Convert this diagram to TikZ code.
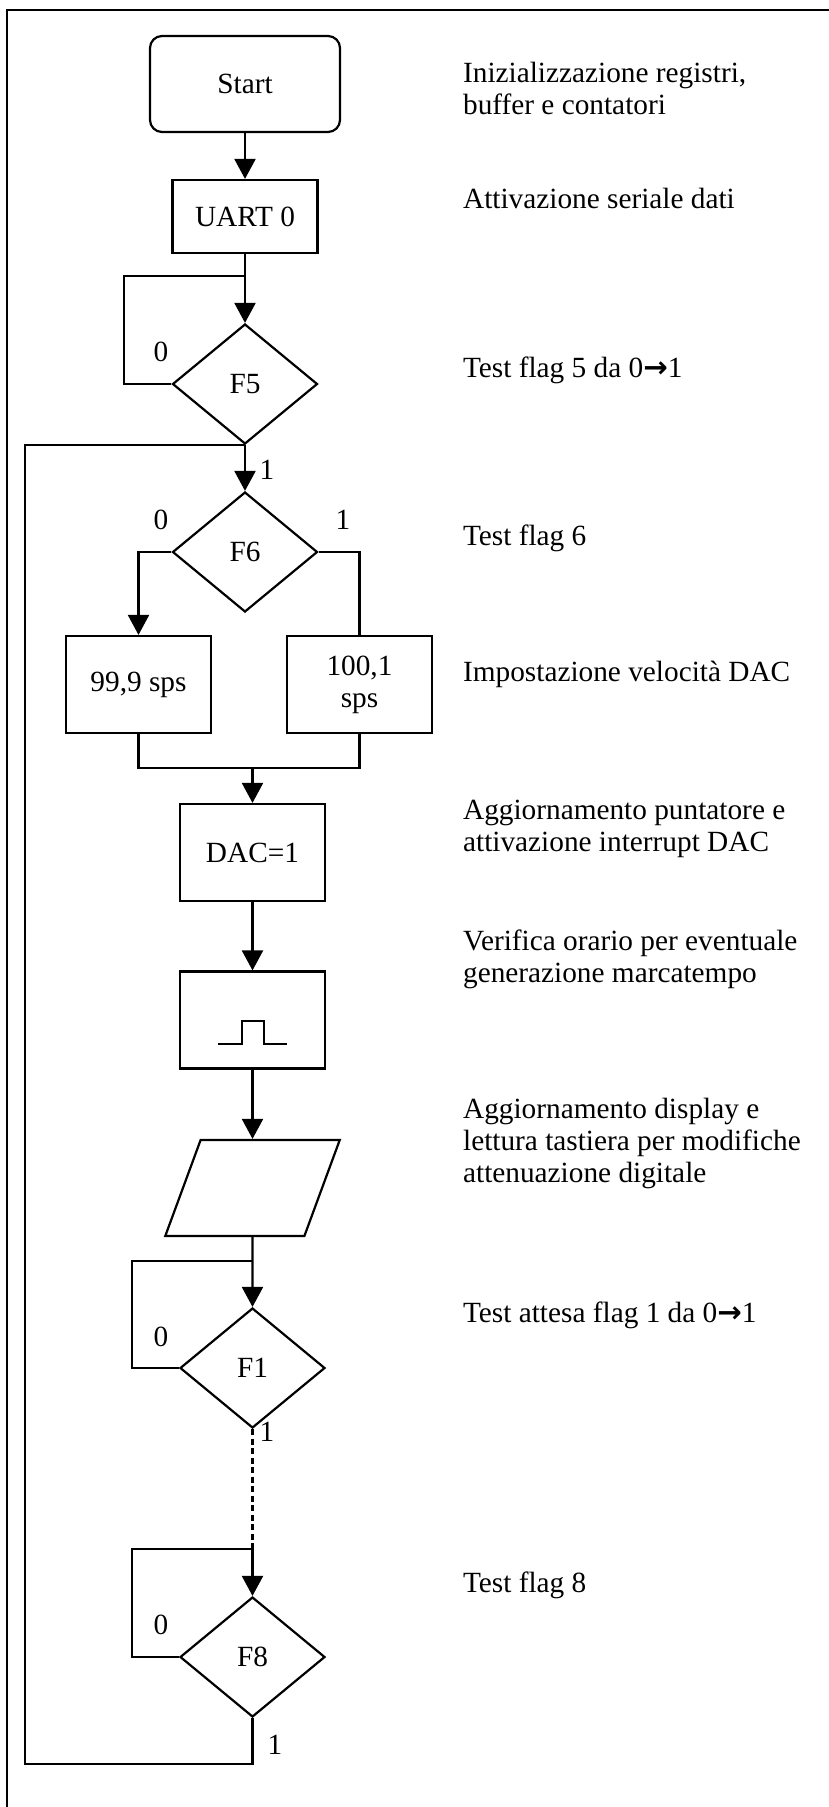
\documentclass[tikz,border=0pt]{standalone}
\usepackage{fontspec}
\setmainfont{Liberation Serif}
\newfontfamily\arrowfont{DejaVu Sans}
\usetikzlibrary{shapes.geometric,arrows.meta}

\begin{document}
\begin{tikzpicture}[x=1pt, y=-1pt, >={Triangle[length=20pt,width=21pt]}, line width=2.2pt,
        font=\fontsize{29.3}{32}\selectfont,
        startbox/.style={draw, rounded corners=12pt, minimum width=190pt, minimum height=96pt},
        block/.style={draw, minimum width=145pt, minimum height=97pt, inner sep=0pt, align=center},
        decision/.style={draw, diamond, minimum width=145pt, minimum height=120pt, inner sep=0pt},
        io/.style={draw, trapezium, trapezium left angle=70, trapezium right angle=110,
            trapezium stretches=true, minimum width=175pt, minimum height=96pt, inner sep=2pt},
        note/.style={anchor=base west, align=left, inner sep=0pt},
        flag/.style={inner sep=0pt}]
        \useasboundingbox (0,0) rectangle (828,1807);
        \draw (850,10) -- (7,10) -- (7,1830);

        \node[startbox]                    (start)   at (245,84)                        {Start};
        \node[block, minimum height=73pt]  (uart)    [node distance=132.5pt, below of=start] {UART 0};
        \node[decision]                    (f5)      [node distance=167.5pt, below of=uart]  {F5};
        \node[decision]                    (f6)      [node distance=168pt, below of=f5]      {F6};
        \node[block]                       (b999)    at (138.5,684.5)                   {99,9 sps};
        \node[block]                       (b1001)   at (359.5,684.5)                   {100,1\\sps};
        \coordinate                        (mg)      at (252.5,768);
        \node[block]                       (dac)     at (252.5,852.5)                   {DAC=1};
        \node[block]                       (pulse)   [node distance=167.5pt, below of=dac]   {};
        \node[io]                          (para)    [node distance=168pt, below of=pulse]   {\phantom{x}};
        \node[decision]                    (f1)      [node distance=180pt, below of=para]    {F1};
        \node[decision]                    (f8)      [node distance=289pt, below of=f1]      {F8};

        \coordinate (j5) at (245,276);   \coordinate (l5) at (124,276);
        \coordinate (j1) at (252.5,1261); \coordinate (l1) at (132,1261);
        \coordinate (j8) at (252.5,1549); \coordinate (l8) at (132,1549);
        \coordinate (back) at (25,1764);

        \node[flag] (f5no)  at (161,352)  {0};
        \node[flag] (f5yes) at (267,470)  {1};
        \node[flag] (f6no)  at (161,520)  {0};
        \node[flag] (f6yes) at (343,520)  {1};
        \node[flag] (f1no)  at (161,1337) {0};
        \node[flag] (f1yes) at (267,1432) {1};
        \node[flag] (f8no)  at (161,1625) {0};
        \node[flag] (f8yes) at (275,1745) {1};

        \path[->]   (start) edge (uart)
                    (uart)  edge (f5)
                    (f5)    edge (f6);
        \draw (f5.west) -| (l5) -- (j5);
        \draw[->] (f6.west) -| (b999);
        \draw (f6.east) -| (b1001);
        \draw (b999) |- (mg) -| (b1001);
        \path[->]   (mg)    edge (dac)
                    (dac)   edge (pulse)
                    (pulse) edge (para)
                    (para)  edge (f1);
        \draw (f1.west) -| (l1) -- (j1);
        \draw[dash pattern=on 6pt off 3.5pt] (f1) -- (j8);
        \draw[->] (j8) -- (f8);
        \draw (f8.west) -| (l8) -- (j8);
        \draw (f8) |- (back) |- (f5.south);

        % impulso marcatempo
        \draw ([shift={(-34.5,24)}]pulse.center) -- ++(24,0) -- ++(0,-23) -- ++(22,0) -- ++(0,23) -- ++(23,0);

        % note a destra (base = ultima riga)
        \node[note] (t1)  at (462,114)  {Inizializzazione registri,\\buffer e contatori};
        \node[note] (t2)  at (462,208)  {Attivazione seriale dati};
        \node[note] (t3)  at (462,377)  {Test flag 5 da 0{\arrowfont\bfseries →}1};
        \node[note] (t4)  at (462,545)  {Test flag 6};
        \node[note] (t5)  at (462,681)  {Impostazione velocità DAC};
        \node[note] (t6)  at (462,851)  {Aggiornamento puntatore e\\attivazione interrupt DAC};
        \node[note] (t7)  at (462,982)  {Verifica orario per eventuale\\generazione marcatempo};
        \node[note] (t8)  at (462,1182) {Aggiornamento display e\\lettura tastiera per modifiche\\attenuazione digitale};
        \node[note] (t9)  at (462,1322) {Test attesa flag 1 da 0{\arrowfont\bfseries →}1};
        \node[note] (t10) at (462,1592) {Test flag 8};
\end{tikzpicture}
\end{document}
